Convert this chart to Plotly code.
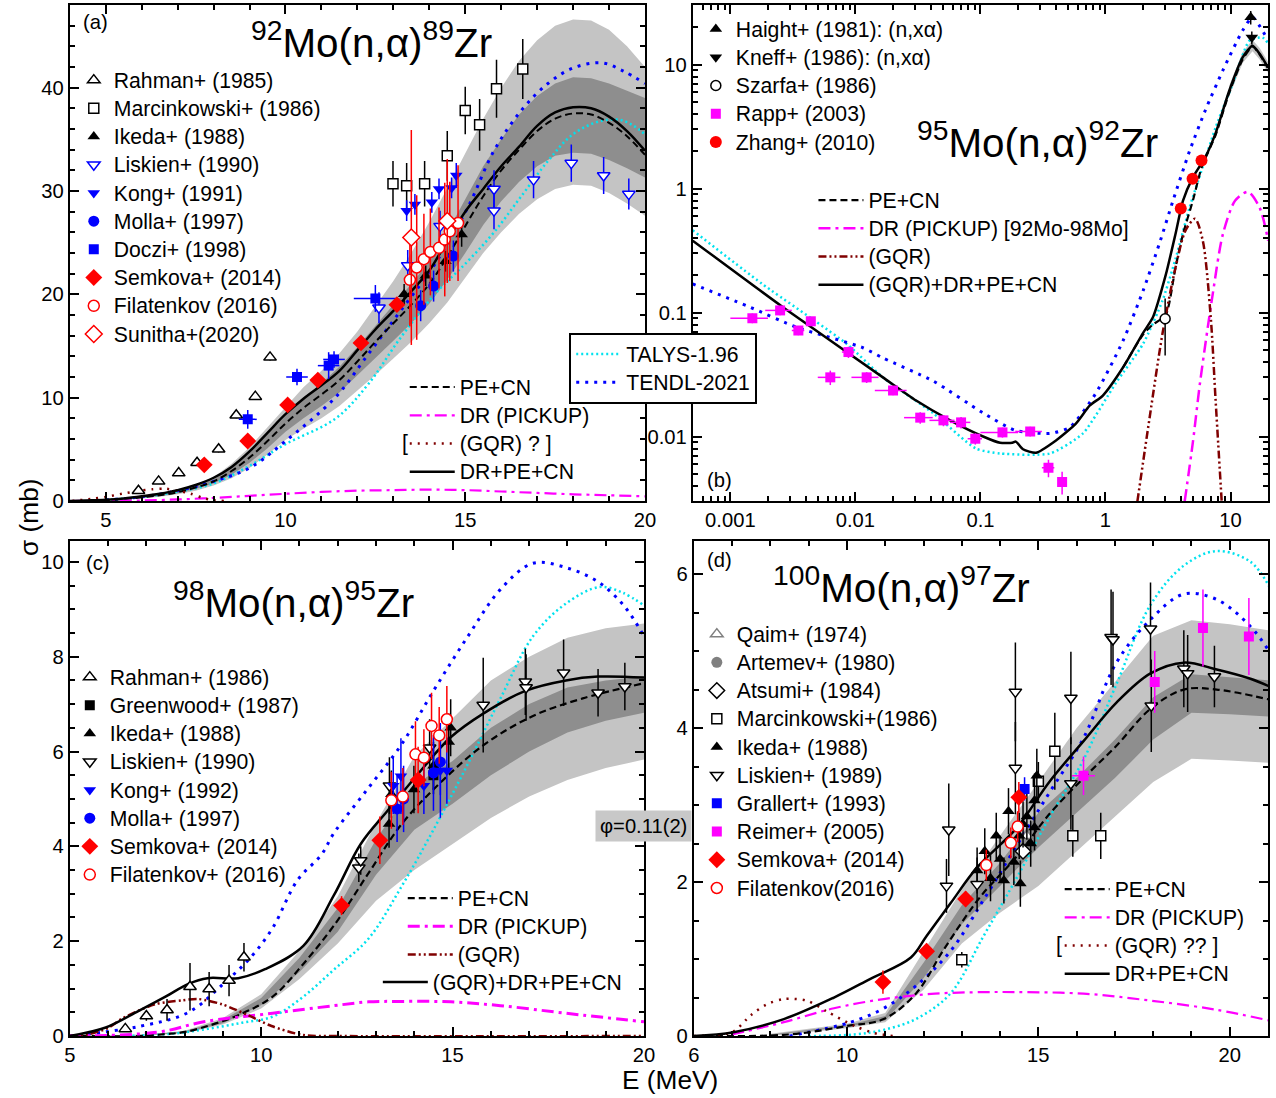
import plotly.graph_objects as go

# reference canvas (coordinates below are measured on it)
W, H = 1276, 1098
# rendered canvas (slightly larger to compensate the capture scaling)
FIG_W, FIG_H = 1289, 1109
FS = 1.01
def px(x): return x / W
def py(y): return 1 - y / H

FONT = "Liberation Sans, Arial, sans-serif"
def L(s): return f'<span style="font-size:{21 * FS:.1f}px">{s}</span>'

LIGHT = '#c4c4c4'
DARK = '#8e8e8e'
CYAN = '#00e2ee'
BLUE = '#0000ff'
MAG = '#ff00ff'
DRED = '#800000'
RED = '#ff0000'

# ---------------- Panel (a): 92Mo(n,a)89Zr ----------------
A_E = [4, 4.5, 5, 5.5, 6, 6.5, 7, 7.5, 8, 8.5, 9, 9.5, 10, 10.5, 11, 11.5, 12, 12.5, 13, 13.5,
       14, 14.5, 15, 15.5, 16, 16.5, 17, 17.5, 18, 18.5, 19, 19.5, 20]
A_sol = [0.0, 0.05, 0.12, 0.25, 0.45, 0.7, 1.05, 1.55, 2.25, 3.3, 4.8, 6.6, 8.4, 9.9, 11.2, 12.6, 14.6, 16.6,
         18.4, 20.3, 22.3, 25.2, 28.0, 30.2, 32.4, 34.3, 36.3, 37.6, 38.1, 38.0, 37.2, 35.8, 33.9]
A_dash = [0.0, 0.03, 0.08, 0.18, 0.35, 0.55, 0.85, 1.3, 1.9, 2.9, 4.2, 5.8, 7.5, 9.0, 10.3, 11.7, 13.5, 15.4,
          17.2, 19.0, 21.0, 23.6, 26.6, 29.5, 32.0, 34.0, 35.8, 37.0, 37.5, 37.4, 36.6, 35.3, 33.5]
A_light_lo = [0, 0.02, 0.06, 0.13, 0.25, 0.4, 0.65, 1.0, 1.5, 2.2, 3.2, 4.5, 5.9, 7.0, 8.0, 9.2, 10.7, 12.2,
              13.8, 15.4, 17.2, 19.2, 21.6, 24.0, 26.0, 27.8, 29.2, 30.2, 30.6, 30.5, 29.8, 28.8, 27.6]
A_light_hi = [0, 0.04, 0.1, 0.23, 0.45, 0.7, 1.05, 1.6, 2.3, 3.6, 5.2, 7.1, 9.1, 11.0, 12.6, 14.3, 16.4, 18.8,
              21.3, 24.0, 27.0, 30.3, 33.6, 37.0, 40.0, 42.6, 44.6, 46.0, 46.6, 46.5, 45.6, 44.0, 42.0]
A_dark_lo = [0, 0.025, 0.07, 0.15, 0.3, 0.48, 0.75, 1.15, 1.7, 2.55, 3.7, 5.1, 6.7, 8.0, 9.2, 10.5, 12.1, 13.8,
             15.5, 17.2, 19.1, 21.4, 24.0, 26.7, 29.0, 30.9, 32.4, 33.4, 33.7, 33.6, 33.0, 32.2, 31.3]
A_dark_hi = [0, 0.035, 0.09, 0.21, 0.4, 0.62, 0.95, 1.45, 2.1, 3.25, 4.7, 6.5, 8.3, 10.0, 11.4, 13.0, 14.9, 17.0,
             19.0, 21.0, 23.2, 26.0, 29.2, 32.4, 35.0, 37.4, 39.2, 40.4, 41.0, 40.9, 40.4, 39.7, 39.0]
A_talys_E = [5, 6, 7, 8, 9, 10, 11.4, 12.3, 13.2, 14.15, 15.07, 15.8, 16.56, 17.3, 18.0, 18.8, 19.4, 20]
A_talys = [0.1, 0.4, 0.9, 1.7, 3.4, 5.5, 8.0, 11.3, 15.8, 20.0, 23.2, 26.0, 29.5, 32.9, 35.5, 36.8, 36.8, 35.5]
A_tendl_E = [5, 6, 7, 8, 9, 10, 11.38, 12.3, 13.2, 14.15, 15.07, 15.8, 16.56, 17.3, 18.0, 18.8, 19.4, 20]
A_tendl = [0.1, 0.4, 1.0, 1.9, 3.2, 5.8, 10.0, 14.2, 18.4, 22.9, 28.4, 33.9, 37.8, 40.4, 41.9, 42.4, 41.6, 40.4]
A_dr_E = [4, 5, 6, 7, 8, 9, 10, 11, 12, 13, 14, 15, 16, 17, 18, 19, 20]
A_dr = [0, 0.02, 0.05, 0.15, 0.3, 0.5, 0.7, 0.88, 1.0, 1.05, 1.1, 1.05, 0.92, 0.78, 0.65, 0.55, 0.45]
A_gqr_E = [4.07, 4.63, 5.0, 5.46, 5.92, 6.29, 6.66, 7.03, 7.36, 7.68, 7.96, 8.3]
A_gqr = [0.0, 0.22, 0.39, 0.71, 0.97, 1.13, 1.19, 0.97, 0.71, 0.32, 0.1, 0.0]

A_rahman_E = [5.91, 6.47, 7.03, 7.54, 8.14, 8.63, 9.16, 9.57]
A_rahman = [1.0, 1.9, 2.7, 3.7, 5.0, 8.3, 10.1, 13.9]
A_rahman_err = [0.2, 0.2, 0.2, 0.3, 0.3, 0.3, 0.3, 0.3]
A_marc_E = [12.99, 13.37, 13.87, 14.5, 15.0, 15.4, 15.87, 16.6]
A_marc = [30.7, 30.5, 30.7, 33.4, 37.8, 36.4, 39.9, 41.8]
A_marc_err = [2.2, 2.2, 2.2, 2.4, 2.3, 2.5, 2.8, 2.9]
A_ikeda_E = [13.3, 13.9, 14.45, 14.9]
A_ikeda = [20.0, 21.8, 23.2, 25.8]
A_ikeda_err = [1.0, 1.0, 1.0, 1.2]
A_lisk_E = [12.6, 13.4, 14.3, 15.8, 15.8, 16.9, 17.95, 18.85, 19.55]
A_lisk = [18.7, 22.8, 26.6, 30.2, 28.1, 31.1, 32.7, 31.5, 29.7]
A_lisk_err = [1.5, 1.5, 1.5, 1.8, 1.8, 1.8, 1.8, 1.8, 1.5]
A_kong_E = [13.37, 13.6, 14.07, 14.27, 14.62, 14.75]
A_kong = [28.1, 28.7, 28.9, 30.2, 30.3, 31.5]
A_kong_err = [1.0, 1.0, 1.0, 1.0, 1.0, 1.2]
A_molla_E = [13.76, 14.12, 14.67]
A_molla = [18.9, 20.8, 23.7]
A_molla_err = [1.5, 1.5, 1.5]
A_doczi_E = [8.95, 10.32, 11.2, 11.35, 12.5]
A_doczi = [7.9, 12.0, 13.1, 13.7, 19.6]
A_doczi_err = [0.9, 0.8, 1.3, 0.8, 1.3]
A_doczi_xerr = [0.25, 0.3, 0.3, 0.3, 0.6]
A_semk_E = [7.74, 8.95, 10.06, 10.9, 12.1, 13.1]
A_semk = [3.5, 5.8, 9.3, 11.7, 15.3, 19.0]
A_semk_err = [0.4, 0.4, 0.5, 0.6, 0.6, 0.7]
A_filat_E = [13.46, 13.65, 13.85, 14.03, 14.27, 14.43, 14.57, 14.8]
A_filat = [21.4, 22.6, 23.4, 24.1, 24.5, 25.3, 26.1, 26.9]
A_filat_err = [4.5, 7.0, 4.4, 4.2, 3.9, 5.5, 4.8, 5.6]
A_sun_E = [13.5, 14.5]
A_sun = [25.5, 27.1]
A_sun_err = [10.4, 6.0]

# ---------------- Panel (b): 95Mo(n,a)92Zr ----------------
B_sol_E = [0.0005, 0.00265, 0.0166, 0.0306, 0.0572, 0.105, 0.1436, 0.18, 0.192, 0.219, 0.278, 0.402, 0.58,
           0.75, 0.953, 1.38, 1.99, 2.39, 3.03, 3.63, 4.17, 5.0, 6.3, 7.6, 9.8, 12.5, 15.0, 17.1, 19.9]
B_sol = [0.38, 0.11, 0.030, 0.0195, 0.0135, 0.010, 0.0089, 0.0089, 0.0091, 0.0079, 0.0074, 0.0093, 0.0127,
         0.0178, 0.0214, 0.036, 0.068, 0.091, 0.20, 0.43, 0.8, 1.23, 1.8, 2.8, 6.2, 11.4, 14.2, 12.2, 9.5]
B_dash_E = [1.38, 1.99, 2.39, 3.03, 3.63, 4.17, 5.0, 5.9, 7.6, 9.8, 12.5, 15.0, 17.1, 19.9]
B_dash = [0.036, 0.066, 0.08, 0.095, 0.23, 0.43, 0.8, 1.5, 2.7, 6.0, 11.0, 14.0, 12.0, 9.4]
B_band_E = [9.8, 12.5, 15.0, 17.1, 20.0]
B_band_lo = [5.6, 10.3, 12.8, 11.0, 8.6]
B_band_hi = [6.8, 12.6, 15.8, 13.6, 10.5]
B_talys_E = [0.0005, 0.0018, 0.0085, 0.0166, 0.042, 0.092, 0.144, 0.36, 0.66, 1.21, 2.0, 2.86, 3.63, 4.7,
             6.0, 7.6, 10.4, 14.2, 18.0, 20.0]
B_talys = [0.46, 0.17, 0.056, 0.030, 0.0154, 0.0080, 0.0073, 0.0073, 0.0106, 0.027, 0.056, 0.125, 0.27, 0.70,
           1.5, 3.1, 7.0, 15.6, 16.5, 14.8]
B_tendl_E = [0.0005, 0.00145, 0.0034, 0.0115, 0.0166, 0.042, 0.105, 0.19, 0.36, 0.52, 0.83, 1.38, 2.0, 2.7,
             3.47, 4.7, 6.3, 8.7, 12.5, 15.0, 20.0]
B_tendl = [0.17, 0.11, 0.076, 0.052, 0.043, 0.028, 0.0155, 0.0112, 0.0106, 0.0119, 0.022, 0.059, 0.15, 0.36,
           0.8, 2.0, 4.3, 9.0, 18.8, 24.0, 15.6]
B_dr_E = [4.3, 5.0, 5.7, 7.2, 8.7, 10.9, 13.8, 17.1, 20.0]
B_dr = [0.003, 0.009, 0.027, 0.14, 0.43, 0.8, 0.94, 0.70, 0.38]
B_gqr_E = [1.8, 2.25, 2.86, 3.63, 4.37, 5.2, 6.0, 6.95, 7.6, 8.5]
B_gqr = [0.003, 0.014, 0.068, 0.23, 0.46, 0.57, 0.38, 0.091, 0.0195, 0.003]

B_haight_E = [14.5]
B_haight = [24.0]
B_haight_err = [3.0]
B_kneff_E = [14.8]
B_kneff = [16.5]
B_kneff_err = [2.0]
B_szarfa_E = [3.0]
B_szarfa = [0.089]
B_szarfa_up = [0.041]
B_szarfa_dn = [0.044]
B_rapp_E = [0.0015, 0.0025, 0.0035, 0.0044, 0.0063, 0.0088, 0.0123, 0.020, 0.033, 0.0506, 0.070, 0.091,
            0.15, 0.25, 0.35, 0.45]
B_rapp = [0.090, 0.104, 0.0716, 0.085, 0.030, 0.048, 0.030, 0.0235, 0.0142, 0.0135, 0.013, 0.0096,
          0.0108, 0.011, 0.0056, 0.0043]
B_rapp_err = [0.008, 0.009, 0.006, 0.007, 0.004, 0.005, 0.003, 0.002, 0.0015, 0.0014, 0.0014, 0.001,
              0.001, 0.001, 0.0009, 0.0009]
B_rapp_xerr = [0.0005, 0.0006, 0.0004, 0.0003, 0.0013, 0.001, 0.003, 0.0057, 0.0085, 0.0115, 0.013, 0.012,
               0.05, 0.06, 0.04, 0.03]
B_zhang_E = [4.0, 4.97, 5.86]
B_zhang = [0.69, 1.2, 1.68]

# ---------------- Panel (c): 98Mo(n,a)95Zr ----------------
C_sol_E = [5, 5.94, 6.8, 7.5, 8.1, 8.6, 9.4, 10.1, 11.1, 11.9, 12.6, 13.3, 14.07, 14.95, 15.8, 16.9, 17.96,
           18.8, 20]
C_sol = [0, 0.18, 0.53, 0.83, 1.1, 1.22, 1.22, 1.41, 1.9, 2.97, 4.05, 4.75, 5.5, 6.3, 6.8, 7.28, 7.5, 7.58, 7.56]
C_dash_E = [5, 6.8, 7.5, 8.1, 9.4, 10.3, 11.1, 11.9, 12.8, 13.65, 14.5, 15.8, 17.1, 18.4, 20]
C_dash = [0, 0.0, 0.04, 0.1, 0.44, 0.83, 1.52, 2.33, 3.43, 4.45, 5.2, 6.13, 6.75, 7.12, 7.44]
C_band_E = [5, 7, 8, 9, 10, 11, 12, 13, 14, 15, 16, 17, 18, 19, 20]
C_light_lo = [0, 0.01, 0.06, 0.24, 0.58, 1.2, 1.95, 2.85, 3.5, 4.05, 4.6, 5.05, 5.4, 5.65, 5.83]
C_light_hi = [0, 0.03, 0.11, 0.38, 0.88, 1.8, 2.95, 4.5, 5.9, 6.7, 7.5, 8.0, 8.4, 8.6, 8.7]
C_dark_lo = [0, 0.015, 0.07, 0.27, 0.65, 1.35, 2.2, 3.4, 4.35, 4.9, 5.5, 6.0, 6.4, 6.65, 6.82]
C_dark_hi = [0, 0.025, 0.095, 0.34, 0.8, 1.65, 2.7, 4.15, 5.3, 5.8, 6.5, 7.0, 7.35, 7.5, 7.58]
C_talys_E = [6.5, 7.7, 8.6, 9.5, 10.3, 11.1, 11.9, 12.8, 13.65, 14.5, 15.4, 16.25, 17.1, 17.96, 18.84, 19.44, 20]
C_talys = [0, 0.05, 0.15, 0.28, 0.41, 0.83, 1.4, 2.05, 3.13, 4.35, 5.74, 7.12, 8.43, 9.12, 9.47, 9.35, 9.08]
C_tendl_E = [5, 6.8, 8.1, 9.05, 9.75, 10.3, 10.95, 11.57, 11.9, 12.77, 13.65, 14.5, 15.4, 16.25, 17.1, 17.96,
             18.8, 19.5, 20]
C_tendl = [0, 0.2, 0.5, 1.13, 1.68, 2.28, 3.29, 3.82, 4.28, 5.2, 6.13, 7.28, 8.43, 9.42, 9.97, 9.88, 9.58,
           9.05, 8.43]
C_dr_E = [5, 7.3, 8.5, 10.3, 11.9, 12.8, 13.65, 14.95, 16.25, 17.96, 20]
C_dr = [0, 0.08, 0.3, 0.48, 0.64, 0.72, 0.73, 0.72, 0.64, 0.48, 0.3]
C_gqr_E = [5, 5.5, 6, 6.37, 7.23, 7.93, 8.35, 8.97, 9.65, 10.27, 11.1, 12, 20]
C_gqr = [0, 0.04, 0.17, 0.37, 0.67, 0.75, 0.78, 0.67, 0.44, 0.21, 0.02, 0, 0]

C_rahman_E = [6.45, 7.0, 7.54, 8.14, 8.64, 9.16, 9.55]
C_rahman = [0.15, 0.42, 0.55, 1.04, 0.99, 1.17, 1.66]
C_rahman_err = [0.05, 0.1, 0.23, 0.5, 0.36, 0.33, 0.3]
C_green_E = [14.5]
C_green = [5.5]
C_green_err = [0.4]
C_ikeda_E = [13.34, 13.4, 13.99, 14.5, 14.9, 14.95]
C_ikeda = [4.47, 5.1, 5.2, 5.7, 6.2, 6.5]
C_ikeda_err = [0.5, 0.5, 0.5, 0.5, 0.6, 0.6]
C_lisk_E = [12.55, 12.6, 13.35, 14.4, 15.8, 16.9, 16.92, 17.9, 18.8, 19.5]
C_lisk = [3.55, 3.7, 5.28, 6.08, 6.98, 7.47, 7.35, 7.66, 7.24, 7.37]
C_lisk_err = [0.3, 0.3, 0.6, 0.6, 1.0, 0.7, 0.7, 0.7, 0.5, 0.5]
C_kong_E = [13.45, 13.65, 14.25, 14.68, 14.85]
C_kong = [5.28, 5.48, 5.28, 5.6, 5.6]
C_kong_err = [0.6, 0.8, 0.6, 1.0, 0.7]
C_molla_E = [13.55, 13.72, 14.5, 14.68]
C_molla = [4.79, 5.0, 5.55, 5.78]
C_molla_err = [0.7, 0.7, 0.8, 0.7]
C_semk_E = [12.1, 13.1, 14.1]
C_semk = [2.75, 4.13, 5.4]
C_semk_err = [0.2, 0.5, 0.7]
C_filat_E = [13.4, 13.7, 14.03, 14.25, 14.45, 14.65, 14.85]
C_filat = [4.97, 5.05, 5.94, 5.87, 6.54, 6.34, 6.68]
C_filat_err = [0.6, 0.6, 0.7, 0.6, 0.7, 0.6, 0.7]

# ---------------- Panel (d): 100Mo(n,a)97Zr ----------------
D_sol_E = [6, 7.04, 8.35, 9.66, 10.6, 11.67, 12.08, 12.7, 13.4, 14.43, 15.3, 16.18, 17.04, 17.93, 18.8, 19.66,
           20.54, 21.04]
D_sol = [0, 0.05, 0.22, 0.5, 0.74, 1.02, 1.3, 1.72, 2.19, 2.7, 3.31, 3.83, 4.33, 4.71, 4.85, 4.76, 4.64, 4.54]
D_dash_E = [6, 8.5, 10, 10.96, 11.8, 12.5, 13.2, 13.57, 14.43, 15.3, 16.18, 17.04, 17.93, 18.8, 19.66, 21.04]
D_dash = [0, 0.02, 0.13, 0.22, 0.55, 1.1, 1.62, 1.86, 2.33, 2.89, 3.35, 3.77, 4.25, 4.5, 4.5, 4.37]
D_band_E = [8, 10, 11, 12, 13, 14, 15, 16, 17, 18, 19, 20, 21]
D_light_lo = [0, 0.1, 0.18, 0.6, 1.2, 1.6, 1.95, 2.4, 2.85, 3.3, 3.6, 3.58, 3.55]
D_light_hi = [0.03, 0.16, 0.3, 1.1, 1.9, 2.6, 3.3, 4.0, 4.6, 5.2, 5.4, 5.35, 5.27]
D_dark_lo = [0.01, 0.12, 0.2, 0.75, 1.45, 1.95, 2.45, 2.9, 3.35, 3.85, 4.2, 4.18, 4.15]
D_dark_hi = [0.02, 0.14, 0.26, 0.95, 1.7, 2.25, 2.9, 3.35, 3.85, 4.4, 4.7, 4.66, 4.62]
D_talys_E = [9.0, 10.2, 10.96, 11.8, 12.7, 13.57, 14.43, 15.3, 16.18, 17.04, 17.93, 18.8, 19.66, 20.54, 21.04]
D_talys = [0, 0.02, 0.08, 0.22, 0.55, 1.3, 2.05, 2.85, 3.59, 4.57, 5.6, 6.11, 6.3, 6.16, 5.83]
D_tendl_E = [8.5, 10.1, 10.96, 11.8, 12.7, 13.57, 14.43, 15.3, 16.18, 17.04, 17.93, 18.8, 19.66, 20.54, 21.04]
D_tendl = [0, 0.18, 0.36, 0.65, 1.1, 1.77, 2.47, 3.17, 3.87, 4.85, 5.41, 5.74, 5.67, 5.32, 4.99]
D_dr_E = [7, 8.35, 9.66, 10.96, 12.3, 13.57, 14.43, 16.18, 17.93, 19.66, 21.04]
D_dr = [0.02, 0.18, 0.36, 0.48, 0.55, 0.57, 0.57, 0.55, 0.46, 0.34, 0.2]
D_gqr_E = [6, 7.0, 7.49, 7.9, 8.35, 8.95, 9.47, 10.2, 10.7, 11.2]
D_gqr = [0, 0.05, 0.27, 0.41, 0.48, 0.46, 0.32, 0.13, 0.04, 0]

D_qaim_E = [14.7]
D_qaim = [2.6]
D_art_E = [14.8]
D_art = [2.45]
D_atsumi_E = [14.6]
D_atsumi = [2.4]
D_marc_E = [13.0, 15.0, 15.43, 15.9, 16.63]
D_marc = [0.99, 3.31, 3.7, 2.6, 2.6]
D_marc_err = [0.1, 0.25, 0.5, 0.27, 0.3]
D_ikeda_E = [13.4, 13.6, 13.75, 13.9, 14.0, 14.1, 14.22, 14.36, 14.5, 14.53, 14.6, 14.7, 14.8, 14.9, 14.9, 14.96]
D_ikeda = [2.15, 2.4, 2.05, 2.6, 2.3, 2.02, 2.92, 2.26, 2.6, 1.98, 2.75, 2.85, 2.5, 3.06, 2.71, 3.38]
D_ikeda_err = [0.3, 0.3, 0.3, 0.3, 0.3, 0.3, 0.3, 0.3, 0.3, 0.3, 0.3, 0.3, 0.3, 0.35, 0.3, 0.35]
D_lisk_E = [12.6, 12.66, 13.4, 14.4, 14.4, 15.85, 15.85, 16.9, 16.95, 17.93, 17.95, 18.8, 18.9, 19.6]
D_lisk = [1.95, 2.68, 1.97, 4.47, 3.48, 4.39, 3.28, 5.18, 5.15, 5.29, 4.29, 4.77, 4.71, 4.67]
D_lisk_err = [0.35, 0.6, 0.35, 0.64, 0.6, 0.6, 0.6, 0.62, 0.62, 0.6, 0.6, 0.5, 0.5, 0.4]
D_grall_E = [14.64]
D_grall = [3.21]
D_grall_err = [0.15]
D_reimer_E = [16.18, 18.04, 19.3, 20.5]
D_reimer = [3.38, 4.6, 5.3, 5.19]
D_reimer_err = [0.25, 0.4, 0.5, 0.5]
D_reimer_xerr = [0.3, 0.0, 0.0, 0.0]
D_semk_E = [10.94, 12.08, 13.1, 14.49]
D_semk = [0.7, 1.1, 1.78, 3.1]
D_semk_err = [0.15, 0.1, 0.1, 0.2]
D_filat_E = [13.64, 14.28, 14.46]
D_filat = [2.22, 2.51, 2.72]
D_filat_err = [0.2, 0.2, 0.2]

# ---------------- helpers ----------------
AX = {'a': ('x', 'y'), 'b': ('x2', 'y2'), 'c': ('x3', 'y3'), 'd': ('x4', 'y4')}
traces = []


def band(x, lo, hi, p, color):
    xa, ya = AX[p]
    traces.append(go.Scatter(x=list(x) + list(x)[::-1], y=list(hi) + list(lo)[::-1], xaxis=xa, yaxis=ya,
                             mode='lines', fill='toself', fillcolor=color, line=dict(width=0, color=color),
                             showlegend=False, hoverinfo='skip'))


def curve(x, y, p, color, width, dash, name=None, legend='legend', smoothing=1.0):
    xa, ya = AX[p]
    traces.append(go.Scatter(x=x, y=y, xaxis=xa, yaxis=ya, mode='lines',
                             line=dict(color=color, width=width, dash=dash, shape='spline', smoothing=smoothing),
                             name=L(name) if name else '', showlegend=name is not None, legend=legend,
                             hoverinfo='skip'))


def pts(x, y, p, symbol, color, name, legend, ey=None, ex=None, eym=None, size=11, fill=None):
    xa, ya = AX[p]
    mk = dict(symbol=symbol, size=size, color=fill if fill else color,
              line=dict(color=color, width=1.5 if fill else 0))
    kw = {}
    if ey is not None:
        kw['error_y'] = dict(type='data', array=ey, arrayminus=eym if eym is not None else ey,
                             symmetric=eym is None, color=color, thickness=1.5, width=0)
    if ex is not None:
        kw['error_x'] = dict(type='data', array=ex, color=color, thickness=1.5, width=0)
    traces.append(go.Scatter(x=x, y=y, xaxis=xa, yaxis=ya, mode='markers', marker=mk, name=L(name),
                             showlegend=True, legend=legend, hoverinfo='skip', **kw))


DR_DASH = '12px,5px,3px,5px'
GQR_DDOT = '8px,3px,2px,3px,2px,3px'

# ---- panel a ----
band(A_E, A_light_lo, A_light_hi, 'a', LIGHT)
band(A_E, A_dark_lo, A_dark_hi, 'a', DARK)
curve(A_talys_E, A_talys, 'a', CYAN, 2.5, '2px,3px', 'TALYS-1.96', 'legend3')
curve(A_tendl_E, A_tendl, 'a', BLUE, 3, '3px,6px', 'TENDL-2021', 'legend3')
curve(A_E, A_dash, 'a', 'black', 2, '7px,4px', 'PE+CN', 'legend2')
curve(A_dr_E, A_dr, 'a', MAG, 2.2, DR_DASH, 'DR (PICKUP)', 'legend2')
curve(A_gqr_E, A_gqr, 'a', DRED, 2.5, '2px,6px', '(GQR) ? ]', 'legend2', smoothing=0.8)
curve(A_E, A_sol, 'a', 'black', 2.5, 'solid', 'DR+PE+CN', 'legend2')
pts(A_rahman_E, A_rahman, 'a', 'triangle-up', 'black', 'Rahman+ (1985)', 'legend', A_rahman_err, fill='white')
pts(A_marc_E, A_marc, 'a', 'square', 'black', 'Marcinkowski+ (1986)', 'legend', A_marc_err, size=10, fill='white')
pts(A_ikeda_E, A_ikeda, 'a', 'triangle-up', 'black', 'Ikeda+ (1988)', 'legend', A_ikeda_err)
pts(A_lisk_E, A_lisk, 'a', 'triangle-down', BLUE, 'Liskien+ (1990)', 'legend', A_lisk_err, fill='white')
pts(A_kong_E, A_kong, 'a', 'triangle-down', BLUE, 'Kong+ (1991)', 'legend', A_kong_err)
pts(A_molla_E, A_molla, 'a', 'circle', BLUE, 'Molla+ (1997)', 'legend', A_molla_err)
pts(A_doczi_E, A_doczi, 'a', 'square', BLUE, 'Doczi+ (1998)', 'legend', A_doczi_err, A_doczi_xerr, size=10)
pts(A_semk_E, A_semk, 'a', 'diamond', RED, 'Semkova+ (2014)', 'legend', A_semk_err, size=13)
pts(A_filat_E, A_filat, 'a', 'circle', RED, 'Filatenkov (2016)', 'legend', A_filat_err, fill='white')
pts(A_sun_E, A_sun, 'a', 'diamond', RED, 'Sunitha+(2020)', 'legend', A_sun_err, size=13, fill='white')

# ---- panel b ----
band(B_band_E, B_band_lo, B_band_hi, 'b', LIGHT)
curve(B_talys_E, B_talys, 'b', CYAN, 2.5, '2px,3px', None, smoothing=0.6)
curve(B_tendl_E, B_tendl, 'b', BLUE, 3, '3px,6px', None, smoothing=0.6)
curve(B_dash_E, B_dash, 'b', 'black', 2.2, '7px,4px', 'PE+CN', 'legend5', smoothing=0.6)
curve(B_dr_E, B_dr, 'b', MAG, 2.5, DR_DASH, 'DR (PICKUP) [92Mo-98Mo]', 'legend5', smoothing=0.8)
curve(B_gqr_E, B_gqr, 'b', DRED, 2.5, GQR_DDOT, '(GQR)', 'legend5', smoothing=0.8)
curve(B_sol_E, B_sol, 'b', 'black', 2.5, 'solid', '(GQR)+DR+PE+CN', 'legend5', smoothing=0.6)
pts(B_haight_E, B_haight, 'b', 'triangle-up', 'black', 'Haight+ (1981): (n,xα)', 'legend4', B_haight_err)
pts(B_kneff_E, B_kneff, 'b', 'triangle-down', 'black', 'Kneff+ (1986): (n,xα)', 'legend4', B_kneff_err)
pts(B_szarfa_E, B_szarfa, 'b', 'circle', 'black', 'Szarfa+ (1986)', 'legend4', B_szarfa_up, eym=B_szarfa_dn,
    size=10, fill='white')
pts(B_rapp_E, B_rapp, 'b', 'square', MAG, 'Rapp+ (2003)', 'legend4', B_rapp_err, B_rapp_xerr, size=10)
pts(B_zhang_E, B_zhang, 'b', 'circle', RED, 'Zhang+ (2010)', 'legend4', size=12)

# ---- panel c ----
band(C_band_E, C_light_lo, C_light_hi, 'c', LIGHT)
band(C_band_E, C_dark_lo, C_dark_hi, 'c', DARK)
curve(C_talys_E, C_talys, 'c', CYAN, 2.5, '2px,3px', None)
curve(C_tendl_E, C_tendl, 'c', BLUE, 3, '3px,6px', None)
curve(C_dash_E, C_dash, 'c', 'black', 2.2, '7px,4px', 'PE+CN', 'legend7')
curve(C_dr_E, C_dr, 'c', MAG, 3, DR_DASH, 'DR (PICKUP)', 'legend7')
curve(C_gqr_E, C_gqr, 'c', DRED, 2.5, GQR_DDOT, '(GQR)', 'legend7', smoothing=0.8)
curve(C_sol_E, C_sol, 'c', 'black', 2.5, 'solid', '(GQR)+DR+PE+CN', 'legend10')
pts(C_rahman_E, C_rahman, 'c', 'triangle-up', 'black', 'Rahman+ (1986)', 'legend6', C_rahman_err, fill='white')
pts(C_green_E, C_green, 'c', 'square', 'black', 'Greenwood+ (1987)', 'legend6', C_green_err, size=10)
pts(C_ikeda_E, C_ikeda, 'c', 'triangle-up', 'black', 'Ikeda+ (1988)', 'legend6', C_ikeda_err)
pts(C_lisk_E, C_lisk, 'c', 'triangle-down', 'black', 'Liskien+ (1990)', 'legend6', C_lisk_err, fill='white')
pts(C_kong_E, C_kong, 'c', 'triangle-down', BLUE, 'Kong+ (1992)', 'legend6', C_kong_err)
pts(C_molla_E, C_molla, 'c', 'circle', BLUE, 'Molla+ (1997)', 'legend6', C_molla_err)
pts(C_semk_E, C_semk, 'c', 'diamond', RED, 'Semkova+ (2014)', 'legend6', C_semk_err, size=13)
pts(C_filat_E, C_filat, 'c', 'circle', RED, 'Filatenkov+ (2016)', 'legend6', C_filat_err, fill='white')

# ---- panel d ----
band(D_band_E, D_light_lo, D_light_hi, 'd', LIGHT)
band(D_band_E, D_dark_lo, D_dark_hi, 'd', DARK)
curve(D_talys_E, D_talys, 'd', CYAN, 2.5, '2px,3px', None)
curve(D_tendl_E, D_tendl, 'd', BLUE, 3, '3px,6px', None)
curve(D_dash_E, D_dash, 'd', 'black', 2.2, '7px,4px', 'PE+CN', 'legend9')
curve(D_dr_E, D_dr, 'd', MAG, 2.2, DR_DASH, 'DR (PICKUP)', 'legend9')
curve(D_gqr_E, D_gqr, 'd', DRED, 2.5, '2px,6px', '(GQR) ?? ]', 'legend9', smoothing=0.8)
curve(D_sol_E, D_sol, 'd', 'black', 2.5, 'solid', 'DR+PE+CN', 'legend9')
pts(D_qaim_E, D_qaim, 'd', 'triangle-up', 'gray', 'Qaim+ (1974)', 'legend8', fill='white')
pts(D_art_E, D_art, 'd', 'circle', 'gray', 'Artemev+ (1980)', 'legend8')
pts(D_atsumi_E, D_atsumi, 'd', 'diamond', 'black', 'Atsumi+ (1984)', 'legend8', size=12, fill='white')
pts(D_marc_E, D_marc, 'd', 'square', 'black', 'Marcinkowski+(1986)', 'legend8', D_marc_err, size=10, fill='white')
pts(D_ikeda_E, D_ikeda, 'd', 'triangle-up', 'black', 'Ikeda+ (1988)', 'legend8', D_ikeda_err)
pts(D_lisk_E, D_lisk, 'd', 'triangle-down', 'black', 'Liskien+ (1989)', 'legend8', D_lisk_err, fill='white')
pts(D_grall_E, D_grall, 'd', 'square', BLUE, 'Grallert+ (1993)', 'legend8', D_grall_err, size=10)
pts(D_reimer_E, D_reimer, 'd', 'square', MAG, 'Reimer+ (2005)', 'legend8', D_reimer_err, D_reimer_xerr, size=10)
pts(D_semk_E, D_semk, 'd', 'diamond', RED, 'Semkova+ (2014)', 'legend8', D_semk_err, size=13)
pts(D_filat_E, D_filat, 'd', 'circle', RED, 'Filatenkov(2016)', 'legend8', D_filat_err, fill='white')

fig = go.Figure(traces)


def axis(domain, rng, anchor, typ='linear', dtick=None, tickvals=None, ticktext=None,
         minor_dtick=None, minor_vals=None):
    d = dict(domain=domain, range=rng, anchor=anchor, type=typ, showline=True, linecolor='black',
             linewidth=2, mirror='allticks', ticks='inside', ticklen=9, tickwidth=1.5, tickcolor='black',
             showgrid=False, zeroline=False, fixedrange=True,
             tickfont=dict(family=FONT, size=20 * FS, color='black'))
    if tickvals is not None:
        d.update(tickmode='array', tickvals=tickvals, ticktext=ticktext)
    else:
        d.update(tickmode='linear', tick0=0, dtick=dtick)
    mn = dict(ticks='inside', ticklen=5, tickwidth=1.5, tickcolor='black', showgrid=False)
    if minor_vals is not None:
        mn.update(tickmode='array', tickvals=minor_vals)
    else:
        mn.update(tick0=0, dtick=minor_dtick)
    d['minor'] = mn
    return d


XA = [px(64), px(641)]
XB = [px(689), px(1266)]
XC = [px(64), px(640)]
XD = [px(690), px(1266)]
YT = [py(501), py(5)]
YB = [py(1036), py(541)]

LOG_MAJOR_X = [0.001, 0.01, 0.1, 1, 10]
LOG_MAJOR_X_TXT = ['0.001', '0.01', '0.1', '1', '10']
LOG_MAJOR_Y = [0.01, 0.1, 1, 10]
LOG_MAJOR_Y_TXT = ['0.01', '0.1', '1', '10']
LOG_MINOR = [k * 10.0 ** e for e in range(-4, 2) for k in range(2, 10)]
D_XTICKS = [6, 10, 15, 20]


def leg(x, top, itemwidth=30, bg='rgba(0,0,0,0)', bw=0):
    return dict(x=px(x), y=py(top), xanchor='left', yanchor='top', bgcolor=bg, borderwidth=bw,
                bordercolor='black', font=dict(family=FONT, size=19.2 * FS, color='black'),
                itemwidth=itemwidth, traceorder='normal', tracegroupgap=0,
                itemclick=False, itemdoubleclick=False)


ann = []


def text(x, y, s, size=20, **kw):
    d = dict(x=px(x), y=py(y), xref='paper', yref='paper', text=s, showarrow=False,
             xanchor='center', yanchor='middle',
             font=dict(family=FONT, size=size * FS, color='black'))
    d.update(kw)
    ann.append(d)


text(367, 40, '<sup>92</sup>Mo(n,α)<sup>89</sup>Zr', 40)
text(1035, 140, '<sup>95</sup>Mo(n,α)<sup>92</sup>Zr', 40)
text(288, 600, '<sup>98</sup>Mo(n,α)<sup>95</sup>Zr', 40)
text(898, 585, '<sup>100</sup>Mo(n,α)<sup>97</sup>Zr', 40)
text(90, 22, '(a)', 20)
text(716, 480, '(b)', 20)
text(92, 563, '(c)', 20)
text(716, 560, '(d)', 20)
text(400, 443, '[', 21)
text(1056, 945, '[', 21)
text(640, 826, 'φ=0.11(2)', 20, bgcolor='#c8c8c8', borderpad=4)
text(23, 517, 'σ (mb)', 26, textangle=-90)
text(666, 1080, 'E (MeV)', 26)

fig.update_layout(
    width=FIG_W, height=FIG_H, margin=dict(l=0, r=0, t=0, b=0),
    paper_bgcolor='white', plot_bgcolor='white', showlegend=True,
    font=dict(family=FONT, size=20 * FS, color='black'),
    xaxis=axis(XA, [4, 20], 'y', dtick=5, minor_dtick=1),
    yaxis=axis(YT, [0, 48], 'x', dtick=10, minor_dtick=2),
    xaxis2=axis(XB, [-3.3, 1.3], 'y2', typ='log', tickvals=LOG_MAJOR_X, ticktext=LOG_MAJOR_X_TXT,
                minor_vals=LOG_MINOR),
    yaxis2=axis(YT, [-2.52, 1.48], 'x2', typ='log', tickvals=LOG_MAJOR_Y, ticktext=LOG_MAJOR_Y_TXT,
                minor_vals=LOG_MINOR),
    xaxis3=axis(XC, [5, 20], 'y3', dtick=5, minor_dtick=1),
    yaxis3=axis(YB, [0, 10.44], 'x3', dtick=2, minor_dtick=0.5),
    xaxis4=axis(XD, [6, 21], 'y4', tickvals=D_XTICKS, ticktext=[str(v) for v in D_XTICKS], minor_dtick=1),
    yaxis4=axis(YB, [0, 6.43], 'x4', dtick=2, minor_dtick=0.5),
    legend=leg(68, 61),
    legend2=leg(400, 368, itemwidth=45),
    legend3=leg(565, 333, itemwidth=45, bg='white', bw=2),
    legend4=leg(692, 10),
    legend5=leg(810, 181, itemwidth=45),
    legend6=leg(64, 658),
    legend7=leg(398, 879, itemwidth=45),
    legend10=leg(373, 963, itemwidth=45),
    legend8=leg(693, 615),
    legend9=leg(1057, 870, itemwidth=45),
    annotations=ann,
)

fig.write_html("out.html", config={'displayModeBar': False, 'responsive': False},
               post_script=("document.documentElement.style.margin='0';"
                            "document.documentElement.style.overflow='hidden';"
                            "document.body.style.margin='0';"
                            "document.body.style.overflow='hidden';"))
